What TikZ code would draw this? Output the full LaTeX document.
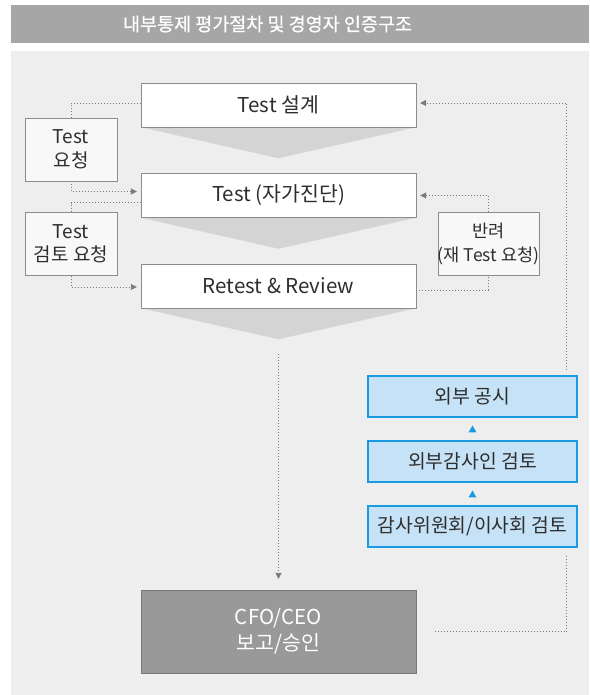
\documentclass[tikz,border=0pt]{standalone}
\usepackage{fontspec}
\setmainfont{Noto Sans CJK KR}
\newfontfamily\titlefont[FakeBold=0.7]{Noto Sans CJK KR}
\usetikzlibrary{arrows.meta,shapes.geometric,backgrounds}
\definecolor{panelgray}{HTML}{EEEEEE}
\definecolor{titlegray}{HTML}{A6A6A6}
\definecolor{linegray}{HTML}{8C8C8C}
\definecolor{dotgray}{HTML}{7A7A7A}
\definecolor{funnelgray}{HTML}{D4D4D4}
\definecolor{boxblue}{HTML}{C6E2F6}
\definecolor{edgeblue}{HTML}{1A9BDF}
\definecolor{textdark}{HTML}{2E2E2E}
\begin{document}
\begin{tikzpicture}[
        x=1pt, y=-1pt,
        font=\fontsize{20.5}{26}\selectfont, text=textdark,
        stage/.style={minimum width=275pt, minimum height=44pt, draw=linegray, fill=white, inner sep=0pt},
        askbox/.style={minimum width=92pt, minimum height=63pt, draw=linegray, fill=white!60!panelgray, align=center, inner sep=0pt, font=\fontsize{19}{23.5}\selectfont},
        outbox/.style={minimum width=209pt, minimum height=41pt, draw=edgeblue, line width=1.2pt, fill=boxblue, inner sep=0pt, font=\fontsize{19.3}{24}\selectfont},
        uptri/.style={regular polygon, regular polygon sides=3, fill=edgeblue, inner sep=0pt, minimum size=9pt},
        dotline/.style={draw=dotgray, line width=0.9pt, dash pattern=on 0.9pt off 2.1pt},
        dotarrow/.style={dotline, -{Triangle[length=6pt,width=6pt]}, shorten >=4pt}
    ]
    \useasboundingbox (0,0) rectangle (589,695);

    % Title and panel
    \fill[titlegray] (11,5) rectangle (589,43);
    \node[text=white, inner sep=0pt, font=\fontsize{18.5}{22}\titlefont] (title) at (267.5,24) {내부통제 평가절차 및 경영자 인증구조};

    % Main flow
    \node[stage] (design) at (278.5,105) {Test 설계}; \node[stage] (selftest) at (278.5,195.5) {Test (자가진단)}; \node[stage] (retest) at (278.5,286) {Retest \& Review};
    \node[fill=black!40, draw=black!53, minimum width=275pt, minimum height=83pt, inner sep=0pt, align=center, text=white] (cfo) at (278.5,631.5) {CFO/CEO \\ 보고/승인};

    \begin{scope}[on background layer]
        \fill[panelgray] (11,51) rectangle (589,695);
        \foreach \n in {design,selftest,retest}
            \fill[funnelgray] (\n.south west) -- (\n.south east) -- ([yshift=-31pt]\n.south) -- cycle;
    \end{scope}

    % Requests (left) and return (right)
    \node[askbox] (req) at (71,149.5) {Test \\ 요청}; \node[askbox] (reviewreq) at (71,244) {Test \\ 검토 요청};
    \node[askbox, minimum width=101pt, font=\fontsize{17.5}{24}\selectfont] (reject) at (488.5,243.5) {반려 \\ (재 Test 요청)};

    % Disclosure chain
    \node[outbox] (publish) at (472.5,396.5) {외부 공시}; \node[outbox] (auditor) at (472.5,461.5) {외부감사인 검토}; \node[outbox] (board) at (472.5,526.5) {감사위원회/이사회 검토};
    \node[uptri] (up1) at (472.5,430) {}; \node[uptri] (up2) at (472.5,495) {};
    \coordinate (cfoend) at (434,631.5);

    % Dotted connectors
    \draw[dotline] ([yshift=2pt]design.west) -| (req.north);
    \draw[dotarrow] (req.south) |- ([yshift=4pt]selftest.west);
    \draw[dotline] ([yshift=-7pt]selftest.west) -| (reviewreq.north);
    \draw[dotarrow] (reviewreq.south) |- ([yshift=-1pt]retest.west);
    \draw[dotline] ([yshift=-4pt]retest.east) -| (reject.south);
    \draw[dotarrow] (reject.north) |- (selftest.east);
    \draw[dotarrow] ([xshift=-11pt, yshift=6pt]publish.north east) |- ([yshift=2pt]design.east);
    \draw[dotline] ([xshift=-11pt, yshift=-8pt]board.south east) |- (cfoend);
    \draw[dotarrow, shorten >=11pt] ([yshift=-46pt]retest.south) -- (cfo.north);

\end{tikzpicture}
\end{document}
